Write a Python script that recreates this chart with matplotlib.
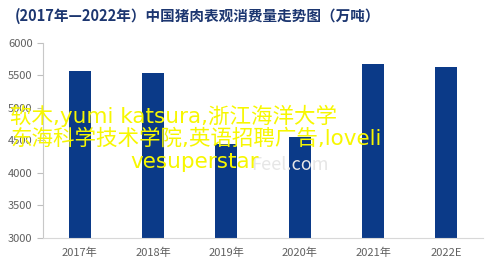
import matplotlib.pyplot as plt

plt.rcParams['font.family'] = ['Noto Sans CJK SC', 'DejaVu Sans']

years = ["2017年", "2018年", "2019年", "2020年", "2021年", "2022E"]
consumption = [5572, 5533, 4450, 4550, 5670, 5624]
yticks = [3000, 3500, 4000, 4500, 5000, 5500, 6000]

title = "(2017年—2022年）中国猪肉表观消费量走势图（万吨）"
overlay_lines = ["软木,yumi katsura,浙江海洋大学", "东海科学技术学院,英语招聘广告,loveli", "vesuperstar"]

fig = plt.figure(figsize=(5, 2.68), dpi=100)
ax = fig.add_axes([0.086, 0.112, 0.88, 0.728])

x = range(len(years))
ax.bar(x, consumption, width=0.3, color="#0b3a88", zorder=2)

ax.set_ylim(3000, 6000)
ax.set_xlim(-0.5, 5.5)
ax.set_yticks(yticks)
ax.set_xticks(list(x))
ax.set_xticklabels(years)
ax.tick_params(axis="y", colors="#bfbfbf", labelcolor="#606060", labelsize=8, length=4, width=0.8)
ax.tick_params(axis="x", length=0, labelcolor="#606060", labelsize=8, pad=7)
for s in ["top", "right"]:
    ax.spines[s].set_visible(False)
ax.spines["left"].set_color("#c8c8c8")
ax.spines["bottom"].set_color("#d8d8d8")

fig.text(0.03, 0.94, title, fontsize=10.5, fontweight="bold", color="#1c3670", va="center")

fig.text(0.58, 0.385, "Feel.com", fontsize=13, color="#e6e6e6", ha="center", va="center")

# watermark lines, latin in DejaVu (wider), CJK falls back
wm_family = ['DejaVu Sans', 'Noto Sans CJK SC']
fig.text(0.02, 0.567, overlay_lines[0], fontsize=15.5, color="#f7f700", va="center", family=wm_family)
fig.text(0.02, 0.485, overlay_lines[1], fontsize=15.5, color="#f7f700", va="center", family=wm_family)
fig.text(0.26, 0.395, overlay_lines[2], fontsize=15.5, color="#f7f700", va="center", family=wm_family)

fig.savefig("out.png", dpi=100)
